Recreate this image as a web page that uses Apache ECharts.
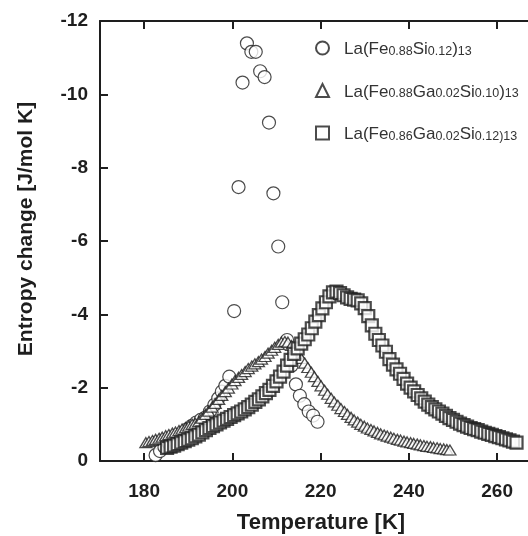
<!DOCTYPE html>
<html>
<head>
<meta charset="utf-8">
<script src="https://cdn.jsdelivr.net/npm/echarts@6/dist/echarts.min.js"></script>
<style>html,body{margin:0;padding:0;background:#fff}#c{width:528px;height:536px}</style>
</head>
<body>
<div id="c"></div>
<script>
// ---- data ----
var xTicks = [180, 200, 220, 240, 260];
var seriesNames = ['La(Fe0.88Si0.12)13', 'La(Fe0.88Ga0.02Si0.10)13', 'La(Fe0.86Ga0.02Si0.12)13'];

// La(Fe0.88Si0.12)13 : circles
var circT = [182.6,183.6,184.6,185.6,186.6,187.6,188.7,189.7,190.8,191.8,192.8,193.8,194.9,195.9,196.8,197.6,198.4,199.3,
  200.4,201.4,202.3,203.3,204.3,205.3,206.3,207.3,208.3,209.3,210.4,211.3,212.4,213.4,214.4,215.3,216.3,217.3,218.3,219.3];
var circV = [-0.16,-0.27,-0.38,-0.48,-0.57,-0.66,-0.76,-0.86,-0.96,-1.05,-1.12,-1.18,-1.35,-1.53,-1.71,-1.89,-2.05,-2.30,
  -4.09,-7.47,-10.32,-11.39,-11.16,-11.16,-10.63,-10.47,-9.23,-7.30,-5.85,-4.33,-3.30,-2.60,-2.09,-1.78,-1.55,-1.35,-1.24,-1.07];

// La(Fe0.88Ga0.02Si0.10)13 : triangles
var triT = [180.4,181.1,181.9,182.6,183.4,184.1,184.9,185.6,186.4,187.1,187.9,188.6,189.4,190.1,190.9,191.6,192.4,193.1,193.9,194.6,
  195.4,196.1,196.9,197.6,198.4,199.1,199.9,200.6,201.4,202.1,202.9,203.6,204.4,205.1,205.9,206.6,207.4,208.1,208.9,209.6,
  210.4,211.1,211.9,212.6,213.4,214.1,214.9,215.6,216.4,217.1,217.9,218.6,219.4,220.1,220.9,221.6,222.4,223.1,223.9,224.6,
  225.4,226.1,226.9,227.6,228.4,229.1,229.9,230.6,231.4,232.1,232.9,233.6,234.4,235.1,235.9,236.6,237.4,238.1,238.9,239.6,
  240.4,241.1,241.9,242.6,243.4,244.1,244.9,245.6,246.4,247.1,247.9,248.6,249.3];
var triV = [-0.50,-0.53,-0.56,-0.59,-0.62,-0.65,-0.69,-0.72,-0.76,-0.79,-0.83,-0.87,-0.91,-0.95,-1.00,-1.03,-1.08,-1.17,-1.27,-1.36,
  -1.47,-1.57,-1.68,-1.79,-1.89,-1.99,-2.10,-2.19,-2.28,-2.36,-2.44,-2.52,-2.59,-2.65,-2.71,-2.78,-2.85,-2.94,-3.02,-3.10,
  -3.18,-3.24,-3.26,-3.24,-3.15,-3.04,-2.92,-2.80,-2.67,-2.55,-2.42,-2.30,-2.17,-2.05,-1.93,-1.82,-1.71,-1.61,-1.52,-1.43,
  -1.35,-1.27,-1.19,-1.12,-1.06,-1.00,-0.95,-0.90,-0.86,-0.82,-0.78,-0.74,-0.71,-0.68,-0.65,-0.62,-0.59,-0.57,-0.54,-0.52,
  -0.50,-0.48,-0.46,-0.44,-0.42,-0.40,-0.39,-0.37,-0.36,-0.34,-0.33,-0.31,-0.30];

// La(Fe0.86Ga0.02Si0.12)13 : squares
var sqT = [185.2,186.0,186.8,187.6,188.4,189.2,190.0,190.8,191.6,192.4,193.2,194.0,194.8,195.6,196.4,197.2,198.0,198.8,199.6,200.4,
  201.2,202.0,202.8,203.6,204.4,205.2,206.0,206.8,207.6,208.4,209.2,210.0,210.8,211.6,212.4,213.2,214.0,214.8,215.6,216.4,
  217.2,218.0,218.8,219.6,220.4,221.2,222.0,222.8,223.6,224.4,225.2,226.0,226.8,227.6,228.4,229.2,230.0,230.8,231.6,232.4,
  233.2,234.0,234.8,235.6,236.4,237.2,238.0,238.8,239.6,240.4,241.2,242.0,242.8,243.6,244.4,245.2,246.0,246.8,247.6,248.4,
  249.2,250.0,250.8,251.6,252.4,253.2,254.0,254.8,255.6,256.4,257.2,258.0,258.8,259.6,260.4,261.2,262.0,262.8,263.6,264.4];
var sqV = [-0.36,-0.39,-0.42,-0.46,-0.50,-0.54,-0.58,-0.62,-0.67,-0.72,-0.78,-0.84,-0.90,-0.95,-1.00,-1.05,-1.10,-1.15,-1.20,-1.25,
  -1.30,-1.35,-1.41,-1.47,-1.54,-1.61,-1.68,-1.76,-1.85,-1.94,-2.05,-2.17,-2.30,-2.44,-2.60,-2.76,-2.92,-3.07,-3.20,-3.32,
  -3.45,-3.62,-3.80,-3.98,-4.16,-4.33,-4.49,-4.60,-4.62,-4.58,-4.52,-4.46,-4.42,-4.40,-4.38,-4.30,-4.17,-3.95,-3.70,-3.47,
  -3.30,-3.15,-2.98,-2.78,-2.63,-2.50,-2.38,-2.24,-2.11,-2.00,-1.90,-1.80,-1.71,-1.62,-1.54,-1.47,-1.41,-1.35,-1.29,-1.23,
  -1.17,-1.12,-1.07,-1.02,-0.98,-0.94,-0.90,-0.87,-0.84,-0.80,-0.77,-0.74,-0.71,-0.68,-0.65,-0.62,-0.59,-0.56,-0.53,-0.50];

function pairs(xs, ys){ var o=[]; for (var i=0;i<xs.length;i++) o.push([xs[i], ys[i]]); return o; }

var FONT = 'Liberation Sans, Arial, Helvetica, sans-serif';
var INK = '#1e1e1e';

var legendRich = {
  g: {width: 10},
  m: {fontSize: 17, fontFamily: FONT, color: '#333', lineHeight: 20, verticalAlign: 'bottom'},
  s: {fontSize: 12.5, fontFamily: FONT, color: '#333', lineHeight: 20, verticalAlign: 'bottom'}
};
var legendFmt = {};
legendFmt[seriesNames[0]] = '{g|}{m|La(Fe}{s|0.88}{m|Si}{s|0.12}{m|)}{s|13}';
legendFmt[seriesNames[1]] = '{g|}{m|La(Fe}{s|0.88}{m|Ga}{s|0.02}{m|Si}{s|0.10}{m|)}{s|13}';
legendFmt[seriesNames[2]] = '{g|}{m|La(Fe}{s|0.86}{m|Ga}{s|0.02}{m|Si}{s|0.12)13}';

var chart = echarts.init(document.getElementById('c'), null, {renderer: 'canvas'});
chart.setOption({
  animation: false,
  backgroundColor: '#fff',
  grid: {left: 100, right: 0, top: 21, bottom: 75, containLabel: false},
  legend: {
    orient: 'vertical', left: 310, top: 35.5, itemWidth: 13, itemHeight: 13, itemGap: 25,
    data: seriesNames,
    formatter: function (n) { return legendFmt[n]; },
    textStyle: {rich: legendRich}
  },
  xAxis: [{
    type: 'value', min: 170, max: 267, position: 'bottom',
    axisLine: {show: true, onZero: false, lineStyle: {color: INK, width: 2}},
    axisTick: {show: true, inside: true, length: 8, lineStyle: {color: INK, width: 2}, customValues: xTicks},
    axisLabel: {show: true, customValues: xTicks, margin: 21, color: INK, fontSize: 19, fontWeight: 'bold', fontFamily: FONT},
    splitLine: {show: false}
  }, {
    type: 'value', min: 170, max: 267, position: 'top',
    axisLine: {show: true, onZero: false, lineStyle: {color: INK, width: 2}},
    axisTick: {show: true, inside: true, length: 8, lineStyle: {color: INK, width: 2}, customValues: xTicks},
    axisLabel: {show: false},
    splitLine: {show: false}
  }],
  yAxis: {
    type: 'value', min: -12, max: 0, interval: 2, inverse: true,
    axisLine: {show: true, onZero: false, lineStyle: {color: INK, width: 2}},
    axisTick: {show: true, inside: true, length: 8, lineStyle: {color: INK, width: 2}},
    axisLabel: {margin: 12, color: INK, fontSize: 19, fontWeight: 'bold', fontFamily: FONT},
    splitLine: {show: false}
  },
  graphic: [
    {type: 'text', x: 321, y: 523, style: {text: 'Temperature [K]', textAlign: 'center', textVerticalAlign: 'middle', fill: INK, font: 'bold 22px ' + FONT}},
    {type: 'text', x: 26, y: 229, rotation: Math.PI / 2, style: {text: 'Entropy change [J/mol K]', textAlign: 'center', textVerticalAlign: 'middle', fill: INK, font: 'bold 21px ' + FONT}}
  ],
  series: [
    {name: seriesNames[0], type: 'scatter', data: pairs(circT, circV), symbol: 'circle', symbolSize: 13, clip: false,
     itemStyle: {color: '#fff', borderColor: INK, borderWidth: 1.2}},
    {name: seriesNames[1], type: 'scatter', data: pairs(triT, triV), symbol: 'triangle', symbolSize: [12, 10], clip: false,
     itemStyle: {color: '#fff', borderColor: INK, borderWidth: 1.3}},
    {name: seriesNames[2], type: 'scatter', data: pairs(sqT, sqV), symbol: 'rect', symbolSize: 12, clip: false,
     itemStyle: {color: '#fff', borderColor: INK, borderWidth: 2.2}}
  ]
});
</script>
</body>
</html>
